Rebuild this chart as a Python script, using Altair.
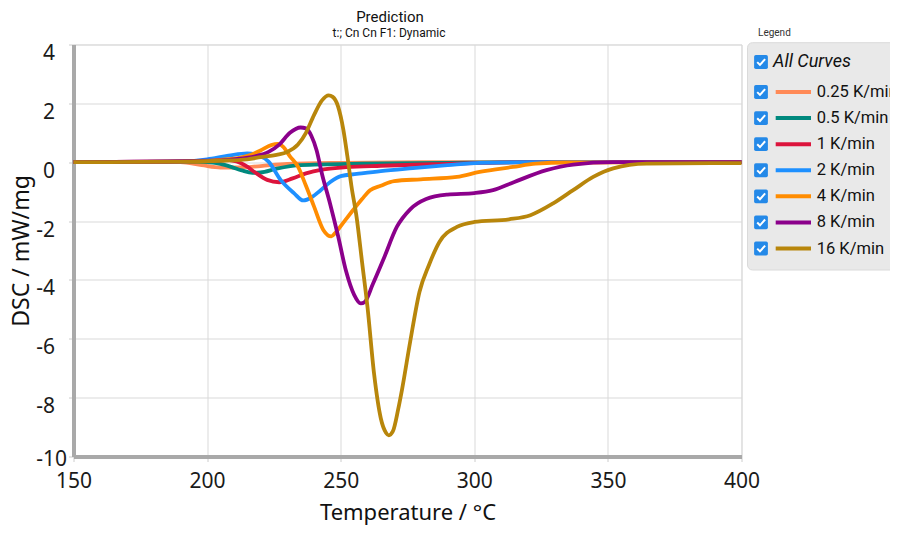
import altair as alt
import pandas as pd

series = ["0.25 K/min", "0.5 K/min", "1 K/min", "2 K/min", "4 K/min", "8 K/min", "16 K/min"]
colors = ["#FF8A57", "#00897E", "#DC143C", "#1E90FF", "#FF8C00", "#8B008B", "#B8860B"]

title_text = "Prediction"
subtitle_text = "t:; Cn Cn F1: Dynamic"

t_025 = [150, 190, 198, 205, 212, 220, 230, 250, 280, 400]
v_025 = [0, 0, -0.1, -0.18, -0.18, -0.13, -0.06, -0.02, 0, 0]

t_05 = [150, 200, 205, 209, 213, 217, 220, 226, 235, 258, 290, 320, 400]
v_05 = [0, 0, -0.06, -0.16, -0.28, -0.36, -0.35, -0.22, -0.1, -0.05, -0.02, 0, 0]

t_1 = [150, 195, 205, 211, 215, 218, 222.5, 227, 232, 237, 243, 252, 265, 284, 300, 320, 400]
v_1 = [0, 0.03, 0.1, 0.03, -0.15, -0.35, -0.6, -0.68, -0.55, -0.38, -0.25, -0.17, -0.12, -0.07, -0.03, 0, 0]

t_2 = [150, 190, 200, 208, 215, 219, 223, 227.5, 232.5, 236, 239, 242.5, 246, 250, 256, 265, 277, 290, 302, 320, 400]
v_2 = [0, 0.02, 0.1, 0.22, 0.3, 0.24, 0.02, -0.6, -1.05, -1.3, -1.2, -0.95, -0.68, -0.47, -0.4, -0.3, -0.2, -0.1, -0.02, 0, 0]

t_4 = [150, 195, 205, 212, 216.5, 220, 224, 226.5, 228.5, 231, 234, 237, 240, 243.5, 246.5, 248, 251, 254, 258, 261, 265, 270, 280, 293.5, 302, 314.5, 323, 335, 400]
v_4 = [0, 0.02, 0.08, 0.15, 0.25, 0.4, 0.58, 0.62, 0.52, 0.2, -0.15, -0.8, -1.5, -2.3, -2.52, -2.4, -2.05, -1.7, -1.25, -0.95, -0.8, -0.64, -0.58, -0.5, -0.33, -0.16, -0.05, -0.01, 0]

t_8 = [150, 200, 210, 218, 223, 227, 231, 235, 237, 239, 241, 243, 246, 249, 252, 255, 257.5, 259, 262, 266, 271, 276, 282, 290, 300, 307, 315, 327, 337, 352, 400]
v_8 = [0, 0.05, 0.1, 0.2, 0.35, 0.6, 1.0, 1.18, 1.15, 0.9, 0.4, -0.4, -1.4, -2.5, -3.7, -4.5, -4.8, -4.75, -4.15, -3.3, -2.2, -1.6, -1.25, -1.1, -1.05, -0.95, -0.67, -0.27, -0.08, 0, 0]

t_16 = [150, 190, 205, 215, 220, 226, 230, 234, 237, 240, 243, 245.5, 247, 249, 251, 252.5, 254, 256, 258, 260, 262.5, 265, 267, 268, 269.5, 271.5, 273, 276, 279.5, 283, 287, 293.5, 300, 313, 321, 329.5, 337, 344.5, 352, 364.5, 400]
v_16 = [0, 0.02, 0.05, 0.1, 0.17, 0.25, 0.35, 0.6, 1.0, 1.6, 2.1, 2.27, 2.22, 1.9, 1.1, 0.2, -0.8, -1.9, -3.4, -4.9, -7.2, -8.7, -9.2, -9.28, -9.15, -8.4, -7.7, -6.1, -4.4, -3.5, -2.7, -2.2, -2.03, -1.94, -1.8, -1.4, -0.95, -0.5, -0.21, -0.05, -0.03]

temps = [t_025, t_05, t_1, t_2, t_4, t_8, t_16]
vals = [v_025, v_05, v_1, v_2, v_4, v_8, v_16]

x_ticks = [150, 200, 250, 300, 350, 400]
y_ticks = [-10, -8, -6, -4, -2, 0, 2, 4]

rows = []
for k, (name, ts, vs) in enumerate(zip(series, temps, vals)):
    for t, v in zip(ts, vs):
        rows.append({"series": name, "order": k, "T": t, "DSC": v})
df = pd.DataFrame(rows)

legend_df = pd.DataFrame({"series": series, "row": list(range(1, len(series) + 1))})
one = pd.DataFrame({"a": [0]})

color_scale = alt.Scale(domain=series, range=colors)
AXF = "Noto Sans"
LF = "Roboto"

lines = alt.Chart(df).mark_line(interpolate="monotone", strokeWidth=3.8).encode(
    x=alt.X("T:Q", scale=alt.Scale(domain=[150, 400], nice=False, zero=False),
            axis=alt.Axis(values=x_ticks, title="Temperature / °C", labelFont=AXF, labelFontSize=21,
                          labelColor="#1a1a1a", tickSize=5, tickColor="#cccccc", labelPadding=9,
                          labelExpr="'' + datum.value",
                          domainColor="#a9a9a9", domainWidth=4, gridColor="#d9d9d9", gridWidth=1,
                          titleFont=AXF, titleFontSize=22, titleFontWeight="normal", titleColor="#111111",
                          titleX=334, titleY=63, titleBaseline="alphabetic", titleAlign="center",
                          labelFlush=False)),
    y=alt.Y("DSC:Q", scale=alt.Scale(domain=[-10, 4], nice=False, zero=False),
            axis=alt.Axis(values=y_ticks, title="DSC / mW/mg", labelFont=AXF, labelFontSize=21,
                          labelColor="#1a1a1a", tickSize=5, tickColor="#cccccc",
                          labelExpr="'' + datum.value",
                          labelPadding=alt.expr("datum.value == -10 ? 2 : 14"),
                          labelOffset=alt.expr("datum.value == -10 ? -8 : -2"),
                          labelBaseline="top", labelFlush=False,
                          domainColor="#a9a9a9", domainWidth=4, gridColor="#d9d9d9", gridWidth=1,
                          titleFont=AXF, titleFontSize=23, titleFontWeight="normal", titleColor="#111111",
                          titleX=-52.5, titleY=206, titleAngle=-90, titleBaseline="middle",
                          titleAlign="center")),
    color=alt.Color("series:N", scale=color_scale, legend=None),
    order=alt.Order("order:Q"),
)

title_mark = alt.Chart(one).mark_text(text=title_text, align="center", baseline="alphabetic", font=LF,
                                      fontSize=15, color="#111111").encode(
    x=alt.value(316.5), y=alt.value(-23))
subtitle_mark = alt.Chart(one).mark_text(text=subtitle_text, align="center", baseline="alphabetic", font=LF,
                                         fontSize=12, color="#111111").encode(
    x=alt.value(315.5), y=alt.value(-7.5))

box = alt.Chart(one).mark_rect(fill="#E9E9E9", stroke="#DADADA", strokeWidth=1, cornerRadius=5).encode(
    x=alt.value(674), x2=alt.value(830), y=alt.value(-1.8), y2=alt.value(225.5))

leg_title = alt.Chart(one).mark_text(text="Legend", align="left", baseline="middle", font=LF,
                                     fontSize=10, color="#333333").encode(
    x=alt.value(684.5), y=alt.value(-11.5))

box_path = "M -0.75,-1 H 0.75 Q 1,-1 1,-0.75 V 0.75 Q 1,1 0.75,1 H -0.75 Q -1,1 -1,0.75 V -0.75 Q -1,-1 -0.75,-1 Z"
check_path = "M -0.55,0.02 L -0.15,0.42 L 0.6,-0.42"
CB = "#2489E8"

all_box = alt.Chart(one).mark_point(shape=box_path, filled=True, color=CB, opacity=1, size=190).encode(
    x=alt.value(687.5), y=alt.value(17.5))
all_check = alt.Chart(one).mark_point(shape=check_path, filled=False, color="white", strokeWidth=2,
                                      opacity=1, size=190).encode(x=alt.value(687.5), y=alt.value(17.5))
all_text = alt.Chart(one).mark_text(text="All Curves", align="left", baseline="middle", font=LF,
                                    fontSize=18, fontStyle="italic", color="#111111").encode(
    x=alt.value(699.5), y=alt.value(17.5))

row_y = alt.Y("row:Q", scale=alt.Scale(domain=[1, 7], range=[47.5, 204]), axis=None)

row_box = alt.Chart(legend_df).mark_point(shape=box_path, filled=True, color=CB, opacity=1, size=190).encode(
    x=alt.value(687.5), y=row_y)
row_check = alt.Chart(legend_df).mark_point(shape=check_path, filled=False, color="white", strokeWidth=2,
                                            opacity=1, size=190).encode(x=alt.value(687.5), y=row_y)
row_line = alt.Chart(legend_df).mark_rule(strokeWidth=4).encode(
    x=alt.value(702.2), x2=alt.value(737.5), y=row_y,
    color=alt.Color("series:N", scale=color_scale, legend=None))
row_text = alt.Chart(legend_df).mark_text(align="left", baseline="middle", font=LF, fontSize=16.5,
                                          color="#111111").encode(
    x=alt.value(743.2), y=row_y, text="series:N")

chart = alt.layer(
    lines, title_mark, subtitle_mark, box, leg_title, all_box, all_check, all_text,
    row_box, row_check, row_line, row_text
).resolve_scale(y="independent").properties(
    width=668, height=412,
    autosize=alt.AutoSizeParams(type="none"),
    padding={"left": 65.5, "top": 36.5, "right": 148.5, "bottom": 68.5},
).configure_view(stroke=None).configure(background="white")

chart.save("out.html", embed_options={"renderer": "svg", "actions": False})
